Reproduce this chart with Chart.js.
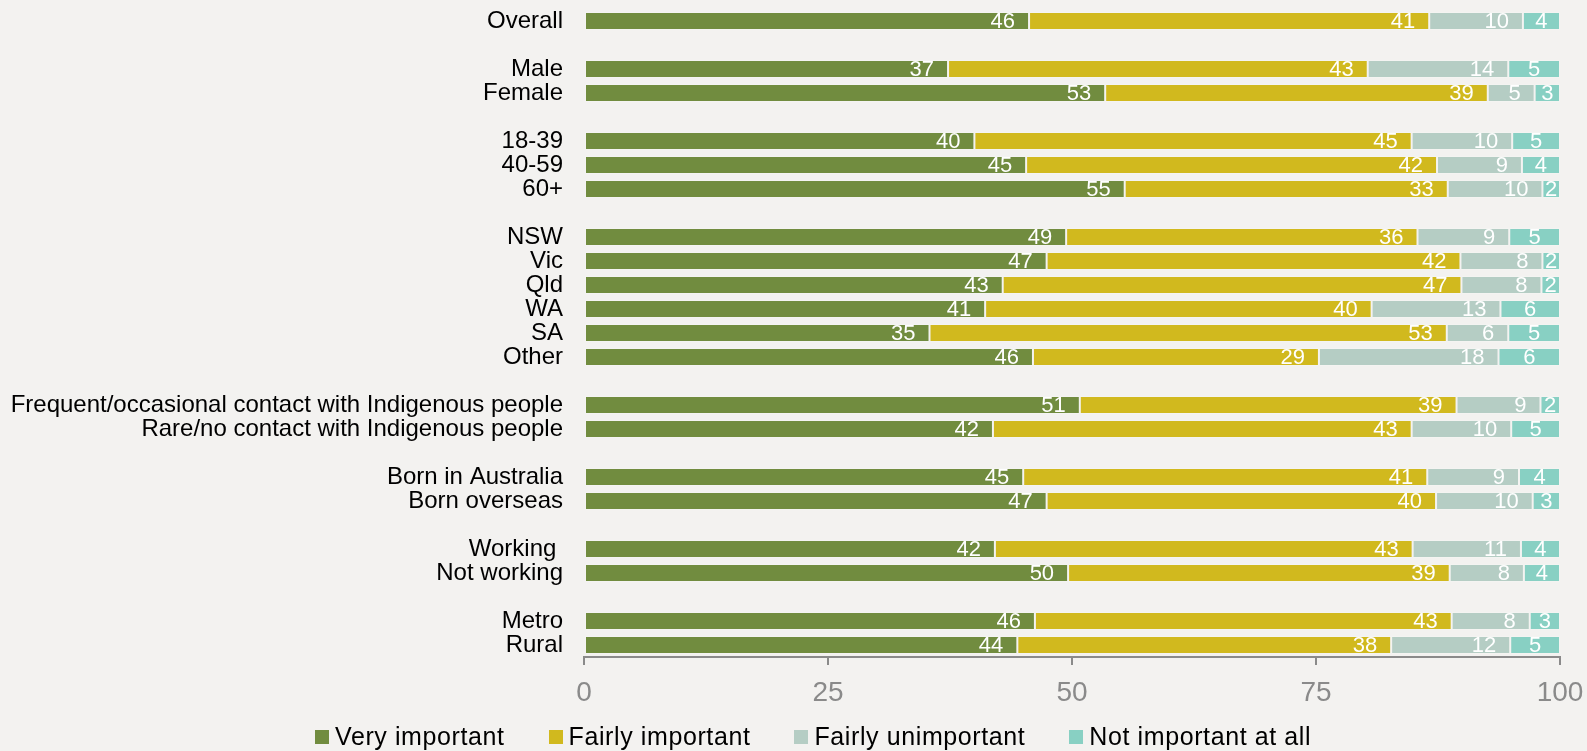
<!DOCTYPE html>
<html><head><meta charset="utf-8">
<script src="https://cdn.jsdelivr.net/npm/chart.js@4.4.1/dist/chart.umd.min.js"></script>
<style>
html,body{margin:0;padding:0;background:#F3F2F0;}
#wrap{position:relative;width:1587px;height:751px;overflow:hidden;}
canvas{position:absolute;left:0;top:0;}
#legend{position:absolute;left:315px;top:721px;height:31px;display:flex;align-items:center;font:25px "Liberation Sans",Arial,sans-serif;letter-spacing:0.6px;color:#000;white-space:nowrap;}
.item{display:flex;align-items:center;margin-right:44px;}
.box{width:14px;height:14px;margin-right:6px;flex:none;}
</style></head><body>
<div id="wrap"><canvas id="c" width="1587" height="751"></canvas><div id="legend"></div></div>
<script>
const categories = ['Overall','', 'Male','Female','', '18-39','40-59','60+','', 'NSW','Vic','Qld','WA','SA','Other','',
  'Frequent/occasional contact with Indigenous people','Rare/no contact with Indigenous people','',
  'Born in Australia','Born overseas','', 'Working ','Not working','', 'Metro','Rural'];
const seriesNames = ['Very important','Fairly important','Fairly unimportant','Not important at all'];
const veryImportant     = [45.6,null,37.3,53.4,null,40.0,45.3,55.4,null,49.4,47.4,42.9,41.1,35.4,46.0,null,50.8,41.9,null,45.0,47.4,null,42.1,49.6,null,46.2,44.4];
const fairlyImportant   = [41.0,null,43.0,39.2,null,44.8,42.1,33.1,null,36.0,42.4,47.0,39.6,53.0,29.3,null,38.6,42.9,null,41.4,39.9,null,42.8,39.1,null,42.7,38.3];
const fairlyUnimportant = [9.6,null,14.4,4.8,null,10.3,8.7,9.7,null,9.4,8.4,8.2,13.2,6.3,18.4,null,8.6,10.2,null,9.4,9.9,null,11.1,7.6,null,8.0,12.2];
const notImportant      = [3.8,null,5.3,2.6,null,4.9,3.9,1.8,null,5.2,1.8,1.9,6.1,5.3,6.3,null,2.0,5.0,null,4.2,2.8,null,4.0,3.7,null,3.1,5.1];
const xTickValues = [0,25,50,75,100];

const colors = ['#718C3F','#D1B91E','#B5CDC4','#88D0C3'];
const anchors = ['end','end','end','center'];
const FONT = '"Liberation Sans", Arial, sans-serif';

const labelPlugin = {
  id: 'segLabels',
  afterDatasetsDraw(chart) {
    const ctx = chart.ctx;
    ctx.save();
    ctx.font = '22px ' + FONT;
    ctx.fillStyle = '#ffffff';
    ctx.textBaseline = 'middle';
    chart.data.datasets.forEach((ds, i) => {
      const meta = chart.getDatasetMeta(i);
      meta.data.forEach((el, j) => {
        const v = ds.data[j];
        if (v == null) return;
        const txt = String(Math.round(v));
        const p = el.getProps(['x', 'base', 'y'], true);
        if (anchors[i] === 'center') {
          ctx.textAlign = 'center';
          ctx.fillText(txt, (p.x + p.base) / 2, p.y + 1);
        } else {
          ctx.textAlign = 'right';
          ctx.fillText(txt, p.x - 14, p.y + 1);
        }
      });
    });
    ctx.restore();
  }
};

const seriesData = [veryImportant, fairlyImportant, fairlyUnimportant, notImportant];
const datasets = seriesNames.map((name, i) => ({
  label: name,
  data: seriesData[i],
  backgroundColor: colors[i],
  borderColor: 'rgba(255,255,255,0.15)',
  borderWidth: 1,
  borderSkipped: false,
  barPercentage: 0.75,
  categoryPercentage: 1.0
}));

new Chart(document.getElementById('c'), {
  type: 'bar',
  data: { labels: categories, datasets },
  options: {
    indexAxis: 'y',
    responsive: false,
    animation: false,
    events: [],
    layout: { padding: { left: 0, right: 27, top: 9, bottom: 0 } },
    plugins: { legend: { display: false }, tooltip: { enabled: false } },
    scales: {
      y: {
        stacked: true,
        grid: { display: false, drawTicks: false },
        border: { display: false },
        ticks: { color: '#000', font: { family: FONT, size: 24 }, padding: 21, autoSkip: false },
        afterFit(s) { s.width = 584; s.paddingTop = 0; s.paddingBottom = 0; }
      },
      x: {
        stacked: true,
        min: 0, max: 100,
        afterBuildTicks(s) { s.ticks = xTickValues.map(v => ({ value: v })); },
        grid: { display: true, drawOnChartArea: false, drawTicks: true, tickLength: 8, color: '#8a8a8a', lineWidth: 2 },
        border: { display: true, color: '#8a8a8a', width: 2 },
        ticks: { color: '#8a8a8a', font: { family: FONT, size: 28 }, padding: 11, maxRotation: 0 },
        afterFit(s) { s.height = 94; s.paddingLeft = 0; s.paddingRight = 0; }
      }
    }
  },
  plugins: [labelPlugin]
});

const legend = document.getElementById('legend');
seriesNames.forEach((name, i) => {
  const item = document.createElement('div');
  item.className = 'item';
  const box = document.createElement('div');
  box.className = 'box';
  box.style.background = colors[i];
  const t = document.createElement('span');
  t.textContent = name;
  item.appendChild(box); item.appendChild(t);
  legend.appendChild(item);
});
</script>
</body></html>
